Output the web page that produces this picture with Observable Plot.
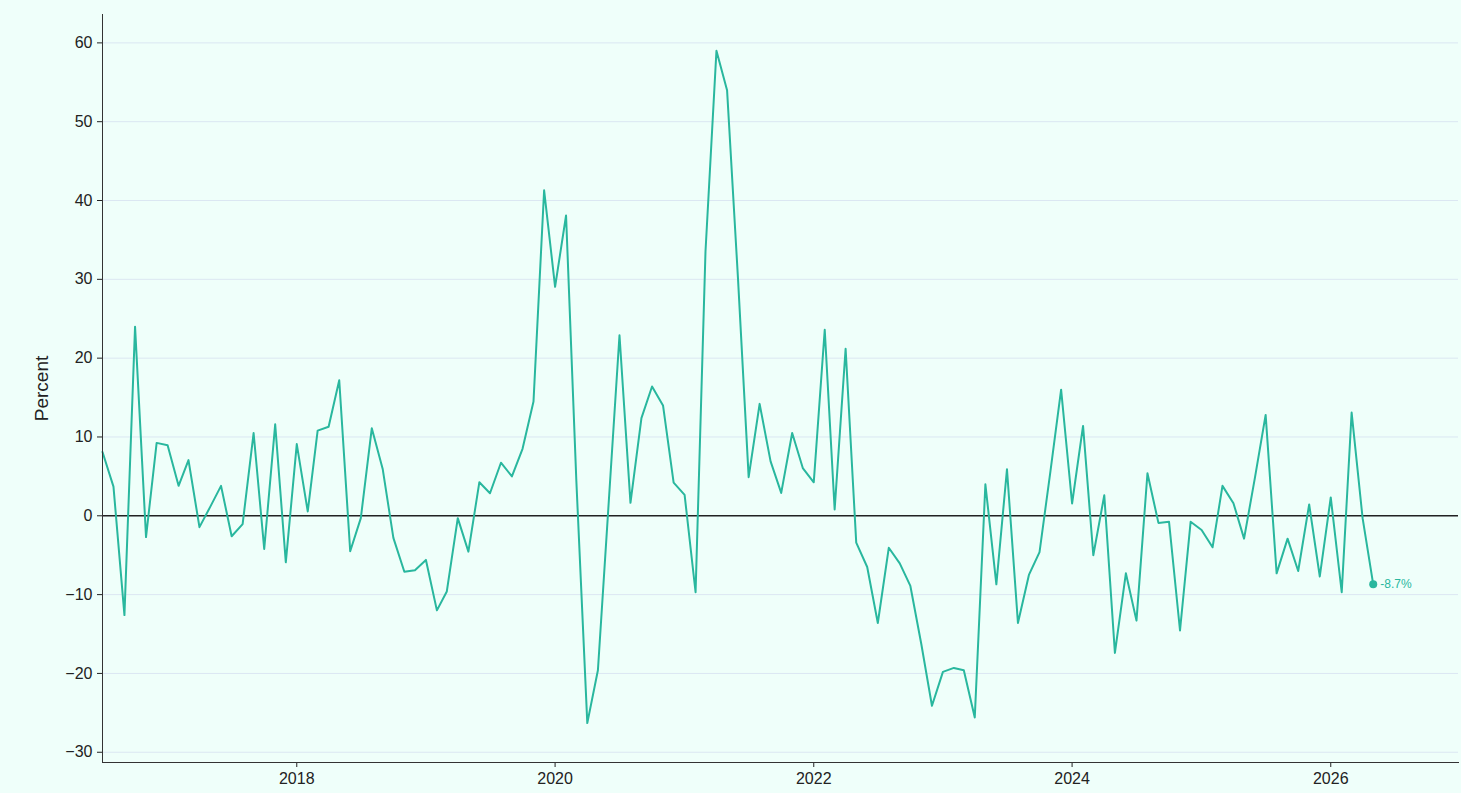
<!DOCTYPE html>
<html>
<head>
<meta charset="utf-8">
<script src="https://cdn.jsdelivr.net/npm/d3@7"></script>
<script src="https://cdn.jsdelivr.net/npm/@observablehq/plot@0.6"></script>
<style>
  html, body { margin: 0; padding: 0; background: #effffa; }
  #chart svg { display: block; }
</style>
</head>
<body>
<div id="chart"></div>
<script>
// Monthly series, July 2016 .. May 2026 (percent)
const startMonth = "2016-07";
const values = [
  // 2016 Jul-Dec
  8.1, 3.7, -12.6, 24.0, -2.7, 9.25,
  // 2017
  8.96, 3.8, 7.06, -1.44, 1.1, 3.8, -2.6, -1.05, 10.5, -4.2, 11.6, -5.9,
  // 2018
  9.1, 0.55, 10.8, 11.3, 17.2, -4.5, -0.3, 11.1, 5.9, -2.8, -7.1, -6.9,
  // 2019
  -5.6, -12.0, -9.6, -0.3, -4.55, 4.26, 2.86, 6.73, 5.0, 8.5, 14.5, 41.3,
  // 2020
  29.05, 38.1, 4.5, -26.3, -19.6, 2.0, 22.9, 1.64, 12.4, 16.4, 14.0, 4.2,
  // 2021
  2.66, -9.7, 33.5, 59.0, 54.0, 30.0, 4.9, 14.2, 6.9, 2.9, 10.5, 6.06,
  // 2022
  4.25, 23.6, 0.8, 21.2, -3.4, -6.5, -13.6, -4.06, -6.04, -8.9, -16.3, -24.1,
  // 2023
  -19.8, -19.3, -19.6, -25.6, 4.0, -8.7, 5.9, -13.6, -7.5, -4.6, 5.7, 16.0,
  // 2024
  1.56, 11.4, -5.0, 2.6, -17.4, -7.3, -13.3, 5.4, -0.9, -0.76, -14.55, -0.76,
  // 2025
  -1.8, -4.0, 3.8, 1.6, -2.9, 4.9, 12.8, -7.3, -2.9, -7.0, 1.44, -7.7,
  // 2026 Jan-May
  2.33, -9.7, 13.1, -0.3, -8.7
];
const yTicks = [-30, -20, -10, 0, 10, 20, 30, 40, 50, 60];
const xTickYears = [2018, 2020, 2022, 2024, 2026];
const yLabel = "Percent";
const xDomain = ["2016-07-01", "2026-12-28"];
const yDomain = [-31.3, 63.6];

const teal = "#29b79e";
const start = d3.utcParse("%Y-%m")(startMonth);
const data = values.map((v, i) => ({date: d3.utcMonth.offset(start, i), value: v}));
const last = [data[data.length - 1]];
const xTicks = xTickYears.map(y => new Date(Date.UTC(y, 0, 1)));

const chart = Plot.plot({
  width: 1461,
  height: 793,
  marginLeft: 102,
  marginRight: 3,
  marginTop: 14,
  marginBottom: 31,
  style: {background: "#effffa", fontFamily: "'Liberation Sans', Arial, sans-serif", fontSize: "16px", color: "#222"},
  x: {type: "utc", domain: xDomain.map(d => new Date(d))},
  y: {domain: yDomain},
  marks: [
    Plot.gridY(yTicks, {stroke: "#dbe7f2", strokeOpacity: 1, strokeWidth: 1}),
    Plot.ruleY([0], {stroke: "#222", strokeWidth: 1.5}),
    Plot.line(data, {x: "date", y: "value", stroke: teal, strokeWidth: 2}),
    Plot.dot(last, {x: "date", y: "value", r: 4, fill: teal}),
    Plot.text(last, {x: "date", y: "value", text: d => `${d.value.toFixed(1)}%`, dx: 7, textAnchor: "start", fill: teal, fontSize: 12}),
    Plot.axisY(yTicks, {tickSize: 5, tickPadding: 5, label: yLabel, labelAnchor: "center", labelArrow: "none", labelOffset: 68}),
    Plot.axisX(xTicks, {tickSize: 5, tickPadding: 5, tickFormat: d3.utcFormat("%Y"), label: null}),
    Plot.frame({anchor: "left", stroke: "#333"}),
    Plot.frame({anchor: "bottom", stroke: "#333"})
  ]
});
chart.querySelectorAll("[aria-label='y-axis tick label'], [aria-label='x-axis tick label']").forEach(g => g.setAttribute("font-size", "16"));
chart.querySelectorAll("[aria-label='y-axis label']").forEach(g => g.setAttribute("font-size", "19"));
document.getElementById("chart").appendChild(chart);
</script>
</body>
</html>
